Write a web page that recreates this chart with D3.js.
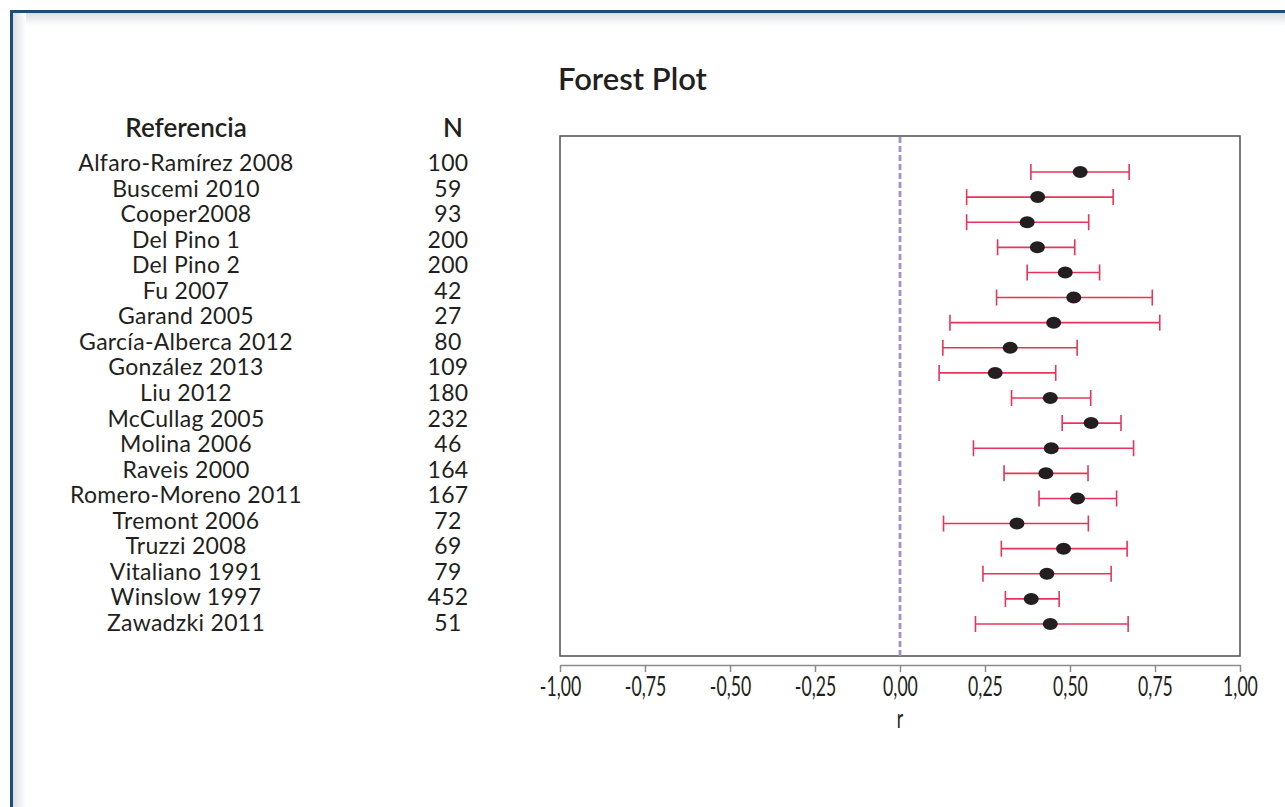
<!DOCTYPE html>
<html lang="es">
<head>
    <meta charset="UTF-8">
    <title>Forest Plot</title>
    <style>
        body { margin: 0; background: #fff; }
        svg { display: block; }
        .lbl { font-family: Lato, "Open Sans", sans-serif; fill: #231f20; }
        .axis text { font-family: Lato, sans-serif; fill: #231f20; }
        .axis path, .axis line { stroke: #8a8a8a; stroke-width: 1.5; }
    </style>
</head>
<body>
<svg width="1285" height="807"></svg>
<script src="https://d3js.org/d3.v7.min.js"></script>
<script>

// data
var estudios = ["Alfaro-Ramírez 2008", "Buscemi 2010", "Cooper2008", "Del Pino 1", "Del Pino 2",
    "Fu 2007", "Garand 2005", "García-Alberca 2012", "González 2013", "Liu 2012", "McCullag 2005",
    "Molina 2006", "Raveis 2000", "Romero-Moreno 2011", "Tremont 2006", "Truzzi 2008",
    "Vitaliano 1991", "Winslow 1997", "Zawadzki 2011"];
var nValues = [100, 59, 93, 200, 200, 42, 27, 80, 109, 180, 232, 46, 164, 167, 72, 69, 79, 452, 51];
var rValues = [0.530, 0.405, 0.374, 0.404, 0.486, 0.511, 0.452, 0.324, 0.280, 0.442, 0.562,
    0.445, 0.429, 0.522, 0.344, 0.481, 0.432, 0.386, 0.442];
var lower = [0.385, 0.196, 0.196, 0.287, 0.374, 0.284, 0.147, 0.126, 0.115, 0.328, 0.477,
    0.216, 0.306, 0.409, 0.128, 0.298, 0.244, 0.310, 0.222];
var upper = [0.674, 0.627, 0.555, 0.514, 0.587, 0.742, 0.764, 0.521, 0.458, 0.561, 0.650,
    0.687, 0.553, 0.637, 0.554, 0.668, 0.621, 0.468, 0.671];
var xTicks = [-1, -0.75, -0.5, -0.25, 0, 0.25, 0.5, 0.75, 1];

var svg = d3.select("svg");

// page frame: blue rule with a soft grey inner shadow
var defs = svg.append("defs");
var gTop = defs.append("linearGradient").attr("id", "shTop").attr("x1", 0).attr("y1", 0).attr("x2", 0).attr("y2", 1);
gTop.append("stop").attr("offset", 0).attr("stop-color", "#d9dcdf");
gTop.append("stop").attr("offset", 1).attr("stop-color", "#fff");
var gLeft = defs.append("linearGradient").attr("id", "shLeft").attr("x1", 0).attr("y1", 0).attr("x2", 1).attr("y2", 0);
gLeft.append("stop").attr("offset", 0).attr("stop-color", "#d9dcdf");
gLeft.append("stop").attr("offset", 1).attr("stop-color", "#fff");

svg.append("rect").attr("x", 12).attr("y", 12).attr("width", 1273).attr("height", 14).attr("fill", "url(#shTop)");
svg.append("rect").attr("x", 12).attr("y", 12).attr("width", 14).attr("height", 795).attr("fill", "url(#shLeft)");
svg.append("path")
    .attr("d", "M11.5,807V11.5H1285")
    .attr("fill", "none")
    .attr("stroke", "#1d4d7c")
    .attr("stroke-width", 3);

// plot area
var plot = {left: 560, right: 1240, top: 136, bottom: 656};

var x = d3.scaleLinear().domain([-1, 1]).range([plot.left, plot.right]);
var y = d3.scalePoint().domain(estudios).range([172, 624]);
var yText = d3.scalePoint().domain(estudios).range([171, 631]);

svg.append("text")
    .attr("class", "lbl")
    .attr("x", 558).attr("y", 90)
    .attr("font-size", 31).attr("font-weight", 600)
    .text("Forest Plot");

// column headers
svg.append("text").attr("class", "lbl")
    .attr("x", 186).attr("y", 137).attr("text-anchor", "middle")
    .attr("font-size", 26).attr("font-weight", 600)
    .text("Referencia");
svg.append("text").attr("class", "lbl")
    .attr("x", 453).attr("y", 137).attr("text-anchor", "middle")
    .attr("font-size", 26).attr("font-weight", 600)
    .text("N");

// rows are packed tight in the original, so the glyphs run a bit narrower
svg.selectAll(".name")
    .data(estudios)
    .enter().append("text")
    .attr("class", "lbl name")
    .attr("x", 186)
    .attr("y", function(d) { return yText(d); })
    .attr("text-anchor", "middle")
    .attr("font-size", 23)
    .attr("letter-spacing", 0.3)
    .text(function(d) { return d; });

svg.selectAll(".nval")
    .data(nValues)
    .enter().append("text")
    .attr("class", "lbl nval")
    .attr("x", 448)
    .attr("y", function(d, i) { return yText(estudios[i]); })
    .attr("text-anchor", "middle")
    .attr("font-size", 23)
    .attr("letter-spacing", 0.3)
    .text(function(d) { return d; });

// box
svg.append("rect")
    .attr("x", plot.left).attr("y", plot.top)
    .attr("width", plot.right - plot.left).attr("height", plot.bottom - plot.top)
    .attr("fill", "none")
    .attr("stroke", "#4d4d4d")
    .attr("stroke-width", 1.5);

// reference line at zero
svg.append("line")
    .attr("x1", x(0)).attr("x2", x(0))
    .attr("y1", plot.top + 1).attr("y2", plot.bottom)
    .attr("stroke", "#a48fcb")
    .attr("stroke-width", 2.8)
    .attr("stroke-dasharray", "6,3");

// axis, labels drawn narrow like the original condensed face
var axis = svg.append("g")
    .attr("class", "axis")
    .attr("transform", "translate(0,665)")
    .call(d3.axisBottom(x)
        .tickValues(xTicks)
        .tickSize(7)
        .tickSizeOuter(0)
        .tickPadding(6)
        .tickFormat(function(d) { return d3.format(".2f")(d).replace("\u2212", "-").replace(".", ","); }));
axis.selectAll("text")
    .attr("font-size", 26)
    .attr("y", 0)
    .attr("dy", 0)
    .attr("transform", "translate(0,31) scale(0.68,1)");

svg.append("text")
    .attr("class", "lbl")
    .attr("transform", "translate(" + x(0) + ",728) scale(0.68,1)")
    .attr("text-anchor", "middle")
    .attr("font-size", 26)
    .text("r");

// confidence intervals
var ci = svg.append("g")
    .attr("stroke", "#e8345a")
    .attr("stroke-width", 1.6);

ci.selectAll(".bar")
    .data(estudios)
    .enter().append("line")
    .attr("x1", function(d, i) { return x(lower[i]); })
    .attr("x2", function(d, i) { return x(upper[i]); })
    .attr("y1", function(d) { return y(d); })
    .attr("y2", function(d) { return y(d); });

ci.selectAll(".capL")
    .data(estudios)
    .enter().append("line")
    .attr("x1", function(d, i) { return x(lower[i]); })
    .attr("x2", function(d, i) { return x(lower[i]); })
    .attr("y1", function(d) { return y(d) - 8; })
    .attr("y2", function(d) { return y(d) + 8; });

ci.selectAll(".capR")
    .data(estudios)
    .enter().append("line")
    .attr("x1", function(d, i) { return x(upper[i]); })
    .attr("x2", function(d, i) { return x(upper[i]); })
    .attr("y1", function(d) { return y(d) - 8; })
    .attr("y2", function(d) { return y(d) + 8; });

// point estimates
svg.selectAll(".dot")
    .data(estudios)
    .enter().append("ellipse")
    .attr("cx", function(d, i) { return x(rValues[i]); })
    .attr("cy", function(d) { return y(d); })
    .attr("rx", 7.5)
    .attr("ry", 6)
    .attr("fill", "#231f20");

</script>
</body>
</html>
